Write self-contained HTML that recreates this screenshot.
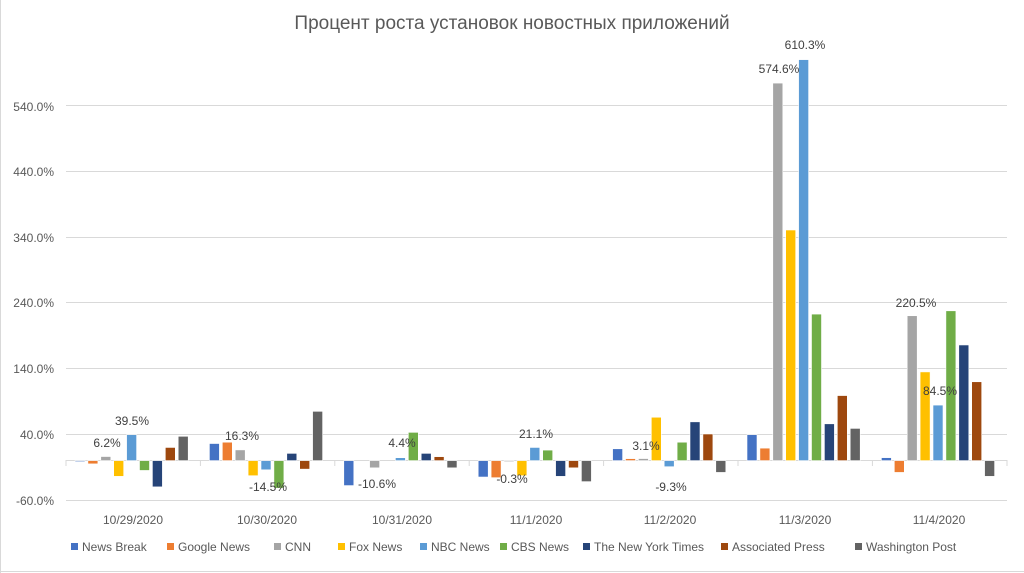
<!DOCTYPE html>
<html><head><meta charset="utf-8"><style>
html,body{margin:0;padding:0;background:#fff;}
svg{display:block;font-family:"Liberation Sans","DejaVu Sans",sans-serif;}
</style></head><body>
<svg id="c" width="1024" height="573" viewBox="0 0 1024 573" xmlns="http://www.w3.org/2000/svg">
<rect x="0" y="0" width="1024" height="573" fill="#fff"/>
<line x1="0.5" y1="0" x2="0.5" y2="573" stroke="#d9d9d9"/>
<line x1="0" y1="571.5" x2="1024" y2="571.5" stroke="#d9d9d9"/>
<text x="512" y="29" text-anchor="middle" font-size="19" fill="#595959">Процент роста установок новостных приложений</text>
<g stroke="#d9d9d9" stroke-width="1">
<line x1="66" y1="105.5" x2="1007" y2="105.5"/>
<line x1="66" y1="171.5" x2="1007" y2="171.5"/>
<line x1="66" y1="237.5" x2="1007" y2="237.5"/>
<line x1="66" y1="302.5" x2="1007" y2="302.5"/>
<line x1="66" y1="368.5" x2="1007" y2="368.5"/>
<line x1="66" y1="434.5" x2="1007" y2="434.5"/>
<line x1="66" y1="500.5" x2="1007" y2="500.5"/>
<line x1="66" y1="460.5" x2="1007" y2="460.5"/>
</g>
<g font-size="12" fill="#595959" text-anchor="end">
<text x="54" y="111">540.0%</text>
<text x="54" y="176">440.0%</text>
<text x="54" y="242">340.0%</text>
<text x="54" y="307">240.0%</text>
<text x="54" y="373">140.0%</text>
<text x="54" y="439">40.0%</text>
<text x="54" y="505">-60.0%</text>
</g>
<g id="bars"></g>
<g font-size="12" fill="#595959" text-anchor="middle">
<text x="133" y="524">10/29/2020</text>
<text x="267" y="524">10/30/2020</text>
<text x="402" y="524">10/31/2020</text>
<text x="536" y="524">11/1/2020</text>
<text x="670" y="524">11/2/2020</text>
<text x="805" y="524">11/3/2020</text>
<text x="939" y="524">11/4/2020</text>
</g>
<g font-size="12" fill="#404040" text-anchor="middle">
<text x="107" y="447">6.2%</text>
<text x="132" y="425">39.5%</text>
<text x="242" y="440">16.3%</text>
<text x="268" y="491">-14.5%</text>
<text x="402" y="447">4.4%</text>
<text x="377" y="488">-10.6%</text>
<text x="512" y="483">-0.3%</text>
<text x="536" y="438">21.1%</text>
<text x="646" y="450">3.1%</text>
<text x="671" y="491">-9.3%</text>
<text x="779" y="73">574.6%</text>
<text x="805" y="49">610.3%</text>
<text x="916" y="307">220.5%</text>
<text x="940" y="395">84.5%</text>
</g>
<g font-size="12" fill="#595959">
<rect x="71" y="543" width="7" height="7" fill="#4472C4"/><text x="82" y="551">News Break</text>
<rect x="167" y="543" width="7" height="7" fill="#ED7D31"/><text x="178" y="551">Google News</text>
<rect x="274" y="543" width="7" height="7" fill="#A5A5A5"/><text x="285" y="551">CNN</text>
<rect x="338" y="543" width="7" height="7" fill="#FFC000"/><text x="349" y="551">Fox News</text>
<rect x="420" y="543" width="7" height="7" fill="#5B9BD5"/><text x="431" y="551">NBC News</text>
<rect x="500" y="543" width="7" height="7" fill="#70AD47"/><text x="511" y="551">CBS News</text>
<rect x="583" y="543" width="7" height="7" fill="#264478"/><text x="594" y="551">The New York Times</text>
<rect x="721" y="543" width="7" height="7" fill="#9E480E"/><text x="732" y="551">Associated Press</text>
<rect x="855" y="543" width="7" height="7" fill="#636363"/><text x="866" y="551">Washington Post</text>
</g>
</svg>
<script>
var colors=["#4472C4","#ED7D31","#A5A5A5","#FFC000","#5B9BD5","#70AD47","#264478","#9E480E","#636363"];
var data=[
[-0.8,-5,6.2,-24,39.5,-15,-40,20,37],
[26,28,16.3,-23,-14,-42,11,-13,75],
[-38,0,-11,0,4.4,43,11,6,-11],
[-25,-26,-0.3,-23,20,16,-24,-11,-32],
[18,3,3.1,66,-9.3,28,59,40.5,-18],
[39.5,19,574.6,351,610.3,223,56,99,49],
[4.5,-18,220.5,135,84.5,228,176,120,-24]];
var k=0.657,z=460.6,g=document.getElementById("bars"),ns="http://www.w3.org/2000/svg";
for(var c=0;c<7;c++){var cx=133+c*134.4;
 for(var i=0;i<9;i++){var v=data[c][i];if(v===0)continue;var h=Math.abs(v)*k;
  var r=document.createElementNS(ns,"rect");var x=cx-58+i*12.9;
  r.setAttribute("x",x);r.setAttribute("width",10);
  r.setAttribute("y",v>0?z-h:z);r.setAttribute("height",Math.max(h,1));
  r.setAttribute("fill",colors[i]);r.setAttribute("stroke","#fff");r.setAttribute("stroke-width","0.6");
  g.appendChild(r);}
 var t=document.createElementNS(ns,"line");var tx=66+c*134.4;
 t.setAttribute("x1",tx);t.setAttribute("x2",tx);t.setAttribute("y1",460);t.setAttribute("y2",466);t.setAttribute("stroke","#d9d9d9");g.appendChild(t);}
var t2=document.createElementNS(ns,"line");t2.setAttribute("x1",1007);t2.setAttribute("x2",1007);t2.setAttribute("y1",460);t2.setAttribute("y2",466);t2.setAttribute("stroke","#d9d9d9");g.appendChild(t2);
</script>
</body></html>
